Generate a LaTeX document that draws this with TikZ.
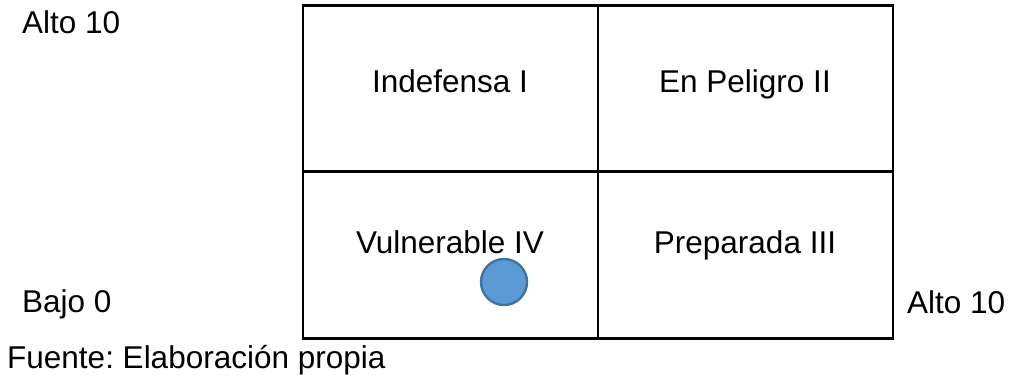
\documentclass[tikz,border=0pt]{standalone}
\usepackage{fontspec}
\setmainfont{Liberation Sans}
\usepackage{xcolor}
\usetikzlibrary{positioning}
\definecolor{dotblue}{HTML}{5B9BD5}
\definecolor{dotedge}{HTML}{41719C}
\frenchspacing

\begin{document}
\begin{tikzpicture}[
    x=1pt, y=-1pt,
    node distance=0pt,
    quad/.style={rectangle, draw, line width=2.6pt, minimum width=295pt, minimum height=166.5pt, inner sep=0pt, outer sep=0pt},
    txt/.style={inner sep=0pt, font=\fontsize{31.5}{38}\selectfont},
    dot/.style={circle, fill=dotblue, draw=dotedge, line width=2.4pt, minimum size=46pt, inner sep=0pt}
]
\useasboundingbox (0,0) rectangle (1012,375);

% Matrix quadrants
\node[quad] (q1) at (450.5,88.5) {};
\node[quad, right=of q1] (q2) {};
\node[quad, below=of q1] (q4) {};
\node[quad, right=of q4] (q3) {};

% Quadrant names
\node[txt, anchor=base] (n1) at (450,92) {Indefensa I};
\node[txt, anchor=base] (n2) at (745,92) {En Peligro II};
\node[txt, anchor=base] (n4) at (450,253) {Vulnerable IV};
\node[txt, anchor=base] (n3) at (745,253) {Preparada III};

% Position marker
\node[dot] (pos) at (504,282) {};

% Axis labels
\node[txt, anchor=base west] (ymax) at (22,33) {Alto 10};
\node[txt, anchor=base west] (ymin) at (22,312) {Bajo 0};
\node[txt, anchor=base west] (xmax) at (907,313) {Alto 10};

\node[txt, anchor=base west] (src) at (7,368) {Fuente: Elaboración propia};

\end{tikzpicture}
\end{document}
